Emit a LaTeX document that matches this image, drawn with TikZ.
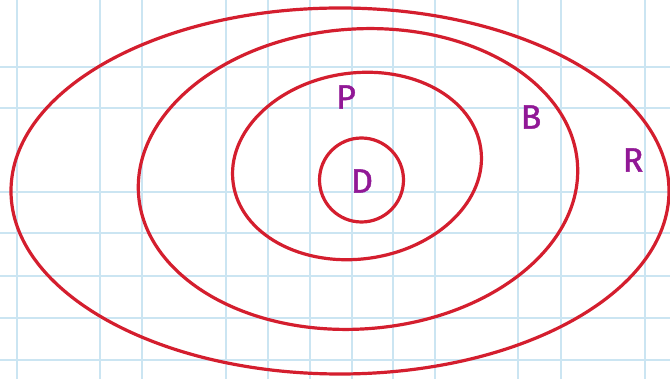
\documentclass[tikz,border=0pt]{standalone}
\usepackage{fontspec}
\setmainfont{Fira Sans}
\newfontfamily\handfont[FakeBold=1.3]{Fira Sans}
\definecolor{setred}{RGB}{212,30,46}
\definecolor{gridblue}{RGB}{203,229,242}
\definecolor{letter}{RGB}{145,24,150}
\tikzset{
  setline/.style={setred,line width=3.2pt},
  setname/.style={letter,font=\handfont\fontsize{34}{34}\selectfont,inner sep=0pt}
}
\begin{document}
\begin{tikzpicture}[x=1pt,y=-1pt]
\useasboundingbox (0,0) rectangle (670,379);
\fill[white] (0,0) rectangle (670,379);
% squared paper
\foreach \gx in {17,100,142,226,268,310,352,393,435,518,561,645}
  \draw[gridblue,line width=1.2pt] (\gx,0) -- (\gx,379);
\foreach \gy in {67,108,192,233,276,318,360}
  \draw[gridblue,line width=1.2pt] (0,\gy) -- (670,\gy);
% nested sets
\draw[setline] (340,191) ellipse [x radius=329, y radius=183];
\draw[setline] (358,179) ellipse [x radius=220, y radius=150, rotate=4];
\draw[setline] (357,166) ellipse [x radius=125, y radius=93, rotate=8];
\draw[setline] (361.5,180) circle [radius=42];
% labels
\node[setname] (lblD) at (362,181) {D};
\node[setname] (lblP) at (346,97) {P};
\node[setname] (lblB) at (531,117) {B};
\node[setname] (lblR) at (633,160) {R};
\end{tikzpicture}
\end{document}
